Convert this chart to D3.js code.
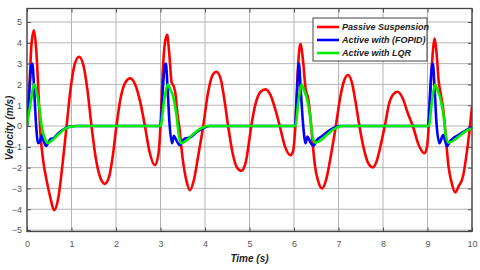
<!DOCTYPE html>
<html>
<head>
<meta charset="utf-8">
<script src="https://cdn.jsdelivr.net/npm/d3@7"></script>
<style>
  body { margin: 0; background: #fff; }
  svg { display: block; font-family: "Liberation Sans", Arial, sans-serif; }
</style>
</head>
<body>
<svg id="chart" width="480" height="270"></svg>
<script>
// passive suspension velocity (t, v)
const passiveT = [0, 0.06, 0.1, 0.155, 0.21, 0.26, 0.3, 0.36, 0.44, 0.52, 0.61, 0.7, 0.8, 0.89, 0.98, 1.07, 1.17, 1.27, 1.36, 1.45, 1.55, 1.65, 1.75, 1.85, 1.93, 2.01, 2.1, 2.2, 2.32, 2.44, 2.55, 2.65, 2.75, 2.87, 2.95, 3.0, 3.05, 3.1, 3.15, 3.2, 3.25, 3.3, 3.34, 3.38, 3.42, 3.5, 3.58, 3.66, 3.75, 3.85, 3.96, 4.06, 4.16, 4.26, 4.36, 4.44, 4.52, 4.62, 4.72, 4.82, 4.92, 4.98, 5.04, 5.14, 5.25, 5.36, 5.48, 5.58, 5.68, 5.8, 5.92, 5.98, 6.03, 6.08, 6.12, 6.15, 6.2, 6.26, 6.32, 6.36, 6.41, 6.47, 6.55, 6.63, 6.72, 6.83, 6.94, 7.04, 7.13, 7.21, 7.3, 7.38, 7.47, 7.57, 7.67, 7.77, 7.87, 7.95, 8.04, 8.14, 8.24, 8.33, 8.44, 8.56, 8.67, 8.8, 8.93, 8.99, 9.04, 9.09, 9.13, 9.16, 9.2, 9.25, 9.31, 9.36, 9.41, 9.47, 9.54, 9.62, 9.7, 9.8, 9.87, 9.94, 10]
const passiveV = [0, 2.2, 3.9, 4.6, 3.6, 1.5, -0.3, -1.6, -2.6, -3.4, -4.05, -3.5, -1.8, 0, 1.8, 2.95, 3.33, 2.9, 1.7, 0, -1.6, -2.5, -2.78, -2.4, -1.4, 0, 1.3, 2.05, 2.29, 1.95, 1.1, 0, -1.2, -1.88, -1.4, 0, 2.6, 4.0, 4.38, 3.4, 2.1, 1.9, 1.5, 0.6, 0, -1.6, -2.6, -3.08, -2.6, -1.4, 0, 1.5, 2.4, 2.61, 2.2, 1.2, 0, -1.3, -2.0, -2.15, -1.7, -0.9, 0, 1.1, 1.65, 1.76, 1.45, 0.8, 0, -1.0, -1.4, -1.2, 0, 2.4, 3.7, 3.95, 3.2, 1.8, 1.3, 0.6, -0.6, -1.9, -2.7, -3.0, -2.6, -1.4, 0, 1.4, 2.2, 2.45, 2.1, 1.2, 0, -1.1, -1.8, -1.99, -1.6, -0.9, 0, 1.1, 1.55, 1.65, 1.35, 0.6, 0, -0.9, -1.31, -1.0, 0.5, 2.6, 3.8, 4.2, 3.6, 2.2, 1.4, 0.7, -0.5, -1.9, -2.7, -3.19, -2.9, -2.4, -1.47, -0.3, 0.93]

// active with FOPID
const fopidT = [0, 0.05, 0.1, 0.12, 0.16, 0.2, 0.25, 0.29, 0.33, 0.38, 0.43, 0.48, 0.53, 0.6, 0.68, 0.76, 0.85, 0.95, 1.1, 3.0, 3.05, 3.1, 3.12, 3.16, 3.2, 3.26, 3.3, 3.36, 3.43, 3.49, 3.55, 3.66, 3.81, 3.96, 4.1, 6.02, 6.07, 6.1, 6.11, 6.15, 6.2, 6.26, 6.3, 6.36, 6.44, 6.49, 6.55, 6.65, 6.75, 6.88, 7.02, 9.01, 9.06, 9.1, 9.12, 9.16, 9.2, 9.27, 9.35, 9.4, 9.44, 9.5, 9.57, 9.72, 9.87, 10]
const fopidV = [0, 1.6, 2.95, 3.0, 1.8, 0.2, -0.83, -0.75, -0.45, -0.75, -0.96, -0.8, -0.62, -0.58, -0.4, -0.25, -0.12, -0.04, 0, 0, 1.7, 2.95, 3.0, 1.8, 0.2, -0.83, -0.47, -0.7, -0.92, -0.72, -0.6, -0.55, -0.3, -0.1, 0, 0, 1.7, 2.9, 3.0, 1.8, 0.2, -0.83, -0.5, -0.75, -0.96, -0.75, -0.6, -0.45, -0.28, -0.1, 0, 0, 1.7, 2.9, 3.0, 1.8, 0.2, -0.83, -0.43, -0.75, -0.96, -0.75, -0.6, -0.4, -0.2, -0.05]

// active with LQR
const lqrT = [0, 0.08, 0.16, 0.22, 0.27, 0.33, 0.4, 0.47, 0.56, 0.66, 0.76, 0.88, 1.0, 1.15, 3.0, 3.08, 3.17, 3.23, 3.28, 3.36, 3.42, 3.47, 3.58, 3.73, 3.88, 4.07, 6.03, 6.1, 6.17, 6.23, 6.28, 6.36, 6.42, 6.48, 6.6, 6.75, 6.9, 7.08, 9.03, 9.1, 9.17, 9.23, 9.28, 9.36, 9.42, 9.48, 9.6, 9.75, 9.9, 10]
const lqrV = [0, 1.1, 2.02, 1.6, 1.0, 0, -0.6, -0.82, -0.7, -0.5, -0.3, -0.1, -0.02, 0, 0, 1.2, 2.0, 1.7, 1.45, 0.5, -0.55, -0.83, -0.7, -0.4, -0.15, 0, 0, 1.2, 2.0, 1.7, 1.4, 0.5, -0.55, -0.8, -0.68, -0.4, -0.15, 0, 0, 1.2, 2.0, 1.7, 1.4, 0.5, -0.55, -0.8, -0.68, -0.42, -0.2, -0.1]

const xTicks = [0, 1, 2, 3, 4, 5, 6, 7, 8, 9, 10]
const yTicks = [-5, -4, -3, -2, -1, 0, 1, 2, 3, 4, 5]
const seriesNames = ['Passive Suspension', 'Active with (FOPID)', 'Active with LQR']
const seriesColors = ['#ff0000', '#0000ff', '#00f000']

const svg = d3.select('#chart')
const plotLeft = 27, plotRight = 472, plotTop = 8.5, plotBottom = 231.5

const x = d3.scaleLinear().domain([0, 10]).range([plotLeft, plotRight])
const y = d3.scaleLinear().domain([-5.07, 5.65]).range([plotBottom, plotTop])

// grid
svg.append('g')
  .selectAll('line')
  .data(xTicks)
  .join('line')
  .attr('x1', d => x(d)).attr('x2', d => x(d))
  .attr('y1', plotTop).attr('y2', plotBottom)
  .attr('stroke', '#b4b4b4').attr('stroke-width', 1)

svg.append('g')
  .selectAll('line')
  .data(yTicks)
  .join('line')
  .attr('x1', plotLeft).attr('x2', plotRight)
  .attr('y1', d => y(d)).attr('y2', d => y(d))
  .attr('stroke', '#b4b4b4').attr('stroke-width', 1)

// axes, ticks pointing inward
const axisStyle = g => {
  g.select('.domain').remove()
  g.selectAll('.tick line').attr('stroke', '#555')
  g.selectAll('.tick text').attr('fill', '#555').attr('font-size', 9)
}

svg.append('g')
  .attr('transform', `translate(0,${plotBottom})`)
  .call(d3.axisBottom(x).tickValues(xTicks).tickSizeInner(-4).tickSizeOuter(0).tickPadding(9))
  .call(axisStyle)

svg.append('g')
  .attr('transform', `translate(${plotLeft},0)`)
  .call(d3.axisLeft(y).tickValues(yTicks).tickSizeInner(-4).tickSizeOuter(0).tickPadding(5))
  .call(axisStyle)

svg.append('g')
  .attr('transform', `translate(0,${plotTop})`)
  .call(d3.axisTop(x).tickValues(xTicks).tickSizeInner(-4).tickSizeOuter(0).tickFormat(''))
  .call(axisStyle)

svg.append('g')
  .attr('transform', `translate(${plotRight},0)`)
  .call(d3.axisRight(y).tickValues(yTicks).tickSizeInner(-4).tickSizeOuter(0).tickFormat(''))
  .call(axisStyle)

// lines
const line = d3.line()
  .x(d => x(d[0]))
  .y(d => y(d[1]))
  .curve(d3.curveMonotoneX)

const series = [
  d3.zip(passiveT, passiveV),
  d3.zip(fopidT, fopidV),
  d3.zip(lqrT, lqrV)
]

svg.append('defs').append('clipPath').attr('id', 'clip')
  .append('rect')
  .attr('x', plotLeft).attr('y', plotTop)
  .attr('width', plotRight - plotLeft).attr('height', plotBottom - plotTop)

svg.append('g')
  .attr('clip-path', 'url(#clip)')
  .selectAll('path')
  .data(series)
  .join('path')
  .attr('d', line)
  .attr('fill', 'none')
  .attr('stroke', (d, i) => seriesColors[i])
  .attr('stroke-width', 2.6)
  .attr('stroke-linejoin', 'round')

// box
svg.append('rect')
  .attr('x', plotLeft).attr('y', plotTop)
  .attr('width', plotRight - plotLeft).attr('height', plotBottom - plotTop)
  .attr('fill', 'none')
  .attr('stroke', '#444').attr('stroke-width', 1.3)

// axis titles
svg.append('text')
  .attr('x', (plotLeft + plotRight) / 2).attr('y', 262)
  .attr('text-anchor', 'middle')
  .attr('font-size', 10).attr('font-weight', 'bold').attr('font-style', 'italic')
  .attr('fill', '#222')
  .text('Time (s)')

svg.append('text')
  .attr('transform', 'translate(9,128) rotate(-90)')
  .attr('text-anchor', 'middle')
  .attr('dy', '0.35em')
  .attr('font-size', 10).attr('font-weight', 'bold').attr('font-style', 'italic')
  .attr('fill', '#222')
  .text('Velocity (m/s)')

// legend
const legend = svg.append('g')
legend.append('rect')
  .attr('x', 313).attr('y', 18)
  .attr('width', 114).attr('height', 43)
  .attr('fill', '#fff')
  .attr('stroke', '#444').attr('stroke-width', 1)

seriesNames.forEach((name, i) => {
  const ly = 27 + i * 13
  legend.append('line')
    .attr('x1', 317).attr('x2', 339)
    .attr('y1', ly).attr('y2', ly)
    .attr('stroke', seriesColors[i]).attr('stroke-width', 2.6)
  legend.append('text')
    .attr('x', 342).attr('y', ly)
    .attr('dy', '0.35em')
    .attr('font-size', 9).attr('font-weight', 'bold').attr('font-style', 'italic')
    .attr('fill', '#222')
    .text(name)
})
</script>
</body>
</html>
